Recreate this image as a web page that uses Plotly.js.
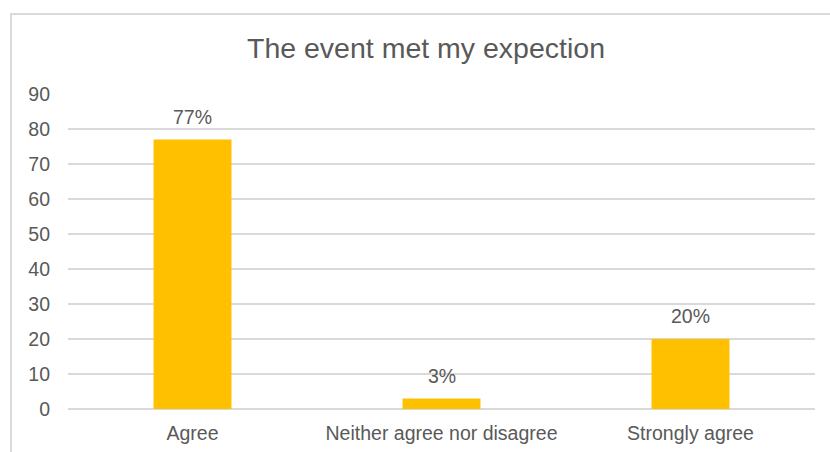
<!DOCTYPE html>
<html>
<head>
<meta charset="utf-8">
<script src="https://cdn.plot.ly/plotly-3.0.1.min.js"></script>
<style>html,body{margin:0;padding:0;background:#fff;overflow:hidden}#chart{width:830px;height:452px}</style>
</head>
<body>
<div id="chart"></div>
<script>
var categories = ["Agree", "Neither agree nor disagree", "Strongly agree"];
var values = [77, 3, 20];
var valueLabels = ["77%", "3%", "20%"];
var yTicks = [0, 10, 20, 30, 40, 50, 60, 70, 80, 90];
var chartTitle = "The event met my expection";

var FONT = "Liberation Sans, Arial, sans-serif";
var TXT = "#595959";
var GRID = "#d9d9d9";

var trace = {
  type: "bar",
  x: categories,
  y: values,
  marker: {color: "#FFC000", line: {width: 0}},
  hoverinfo: "x+y"
};

var annotations = categories.map(function (c, i) {
  return {
    x: c, y: values[i], xref: "x", yref: "y",
    text: valueLabels[i], showarrow: false,
    yanchor: "bottom", yshift: 10,
    font: {family: FONT, size: 19.5, color: TXT}
  };
});

var layout = {
  width: 830, height: 452,
  margin: {l: 68, r: 15, t: 94, b: 43, pad: 0},
  paper_bgcolor: "rgba(0,0,0,0)",
  plot_bgcolor: "rgba(0,0,0,0)",
  title: {
    text: chartTitle,
    font: {family: FONT, size: 28.5, color: TXT},
    xref: "container", x: 426 / 830, xanchor: "center",
    yref: "container", y: 1 - 48 / 452, yanchor: "middle"
  },
  bargap: 0.687,
  showlegend: false,
  xaxis: {
    type: "category",
    showgrid: false, zeroline: false, showline: false,
    ticks: "",
    ticklabelstandoff: 10,
    tickfont: {family: FONT, size: 19.5, color: TXT}
  },
  yaxis: {
    range: [0, 90],
    tickvals: yTicks,
    ticktext: yTicks.map(String),
    showgrid: true, gridcolor: GRID, gridwidth: 2,
    zeroline: true, zerolinecolor: GRID, zerolinewidth: 2,
    showline: false, ticks: "",
    ticklabelstandoff: 17,
    tickfont: {family: FONT, size: 19.5, color: TXT}
  },
  annotations: annotations,
  shapes: [{
    type: "rect", xref: "paper", yref: "paper",
    x0: (11 - 68) / 747, x1: (840 - 68) / 747,
    y0: (409 - 470) / 315, y1: (409 - 14) / 315,
    line: {color: GRID, width: 2},
    fillcolor: "rgba(0,0,0,0)",
    layer: "below"
  }]
};

Plotly.newPlot("chart", [trace], layout, {displayModeBar: false, staticPlot: true});
</script>
</body>
</html>
